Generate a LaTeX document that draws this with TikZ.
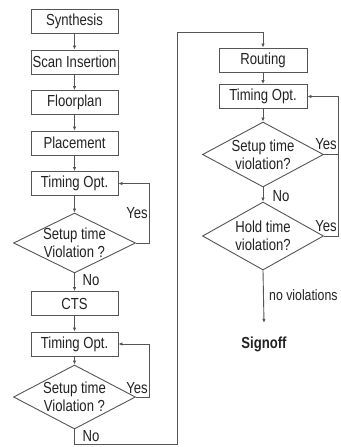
\documentclass[tikz,border=0pt]{standalone}
\usepackage{fontspec}
\setmainfont{Liberation Sans}[FakeStretch=0.82]
\usetikzlibrary{shapes.geometric,arrows.meta}
\definecolor{lc}{HTML}{555555}
\definecolor{tc}{HTML}{222222}
\begin{document}
\begin{tikzpicture}[x=1pt,y=-1pt,
  every node/.style={text=tc},
  txt/.style={font=\fontsize{16}{18}\selectfont},
  box/.style={txt, draw=lc, line width=0.9pt, minimum width=87pt, minimum height=24pt, inner sep=0pt},
  dia/.style={draw=lc, line width=0.9pt, diamond, inner sep=0pt, minimum width=122pt, minimum height=62pt},
  dtxt/.style={txt, align=center, inner sep=0pt},
  lbl/.style={txt, inner sep=0pt},
  conn/.style={draw=lc, line width=0.9pt},
  arr/.style={conn, -{Latex[length=4pt,width=3.5pt]}}]
\useasboundingbox[fill=white] (0,0) rectangle (340,447);
% left column
\node[box] (syn) at (74.5,21) {Synthesis};
\node[box] (scan) at (74.5,62) {Scan Insertion};
\node[box] (floor) at (74.5,102.5) {Floorplan};
\node[box] (place) at (74.5,143) {Placement};
\node[box] (to1) at (74.5,183.5) {Timing Opt.};
\node[dia, minimum height=60pt] (d1) at (74.5,243) {};
\node[dtxt] (d1t) at (d1) {Setup time\\Violation ?};
\node[box] (cts) at (74.5,303.5) {CTS};
\node[box] (to2) at (74.5,344) {Timing Opt.};
\node[dia, minimum height=64pt] (d2) at (74.5,397) {};
\node[dtxt] (d2t) at (d2) {Setup time\\Violation ?};
% right column
\node[box, minimum width=88pt] (rout) at (263,60) {Routing};
\node[box, minimum width=88pt] (to3) at (263,96.5) {Timing Opt.};
\node[dia, minimum width=121pt, minimum height=65pt] (d3) at (263,154.5) {};
\node[dtxt] (d3t) at (d3) {Setup time\\violation?};
\node[dia, minimum width=121pt, minimum height=68pt] (d4) at (263,236) {};
\node[dtxt] (d4t) at (d4) {Hold time\\violation?};
\node[txt, font=\fontsize{16}{18}\selectfont\bfseries, inner xsep=0pt, inner ysep=13.5pt] (sign) at (264,344) {Signoff};
% coordinates
\coordinate (nb) at (74.5,444);
\coordinate (nr) at (177,444);
\coordinate (nt) at (177,32);
\coordinate (yr) at (338,154.5);
% connectors left
\draw[arr] (syn) -- (scan);
\draw[arr] (scan) -- (floor);
\draw[arr] (floor) -- (place);
\draw[arr] (place) -- (to1);
\draw[arr] (to1) -- (d1.north);
\draw[arr] (d1.south) -- (cts);
\draw[arr] (d1.east) -- ++(13,0) |- (to1.east);
\draw[arr] (cts) -- (to2);
\draw[arr] (to2) -- (d2.north);
\draw[arr] (d2.east) -- ++(13,0) |- (to2.east);
\draw[arr] (d2.south) -- (nb) -- (nr) -- (nt) -| (rout.north);
% connectors right
\draw[arr] (rout) -- (to3);
\draw[arr] (to3) -- (d3.north);
\draw[arr] (d3.south) -- (d4.north);
\draw[arr] (d3.east) -- (yr) |- (to3.east);
\draw[conn] (d4.east) -| (yr);
\draw[arr] (d4.south) -- (sign.north);
% labels
\node[lbl] at (137,213) {Yes};
\node[lbl] at (91,280) {No};
\node[lbl] at (137,388) {Yes};
\node[lbl] at (91,436) {No};
\node[lbl] at (326,144) {Yes};
\node[lbl] at (326,226) {Yes};
\node[lbl] at (281,196) {No};
\node[lbl, font=\fontsize{15}{17}\selectfont, anchor=west] at (269,295) {no violations};
\end{tikzpicture}
\end{document}
